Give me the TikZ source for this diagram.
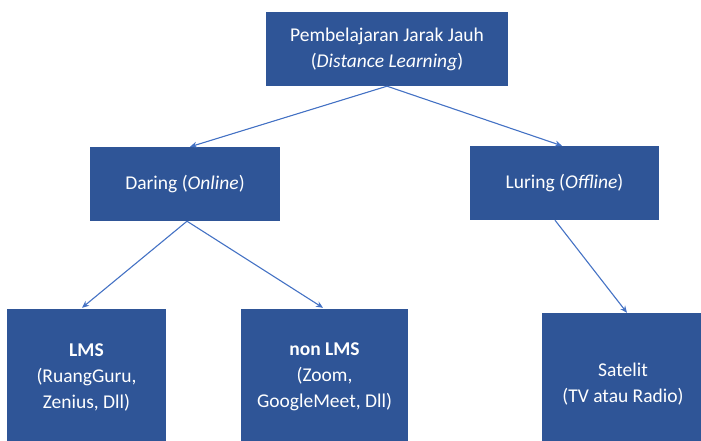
\documentclass[tikz,border=0pt]{standalone}
\usepackage{fontspec}
\setmainfont{Carlito}
\usetikzlibrary{arrows.meta}
\definecolor{boxblue}{HTML}{2F5597}
\definecolor{arrowblue}{HTML}{4472C4}
\tikzset{
  box/.style={fill=boxblue, draw=none, text=white, align=center, inner sep=0pt,
    font=\fontsize{19.5}{26}\selectfont},
  conn/.style={draw=arrowblue, line width=1.1pt, -{Stealth[length=7pt,width=6pt]}}
}
\begin{document}
\begin{tikzpicture}[x=1pt,y=1pt]
\useasboundingbox (0,0) rectangle (701,440);
\clip (0,0) rectangle (701,440);
\node[box, minimum width=242pt, minimum height=74pt] (top) at (387,391) {Pembelajaran Jarak Jauh\\(\textit{Distance Learning})};
\node[box, minimum width=190pt, minimum height=74pt] (daring) at (185,256) {Daring (\textit{Online})};
\node[box, minimum width=189pt, minimum height=74pt] (luring) at (564.5,257) {Luring (\textit{Offline})};
\node[box, minimum width=159pt, minimum height=136pt] (lms) at (86.5,63) {\textbf{LMS}\\(RuangGuru,\\Zenius, Dll)};
\node[box, minimum width=167pt, minimum height=136pt] (nonlms) at (324.5,63) {\textbf{non LMS}\\(Zoom,\\GoogleMeet, Dll)};
\node[box, minimum width=162pt, minimum height=142pt] (sat) at (623,56) {Satelit\\(TV atau Radio)};
\draw[conn] (top.south) -- ([xshift=5pt]daring.north);
\draw[conn] (top.south) -- ([xshift=-2.5pt]luring.north);
\draw[conn] ([xshift=2pt]daring.south) -- ([xshift=-4.5pt,yshift=1pt]lms.north);
\draw[conn] ([xshift=2pt]daring.south) -- ([xshift=-1.5pt,yshift=1pt]nonlms.north);
\draw[conn] ([xshift=-9.5pt]luring.south) -- ([xshift=4pt]sat.north);
\end{tikzpicture}
\end{document}
